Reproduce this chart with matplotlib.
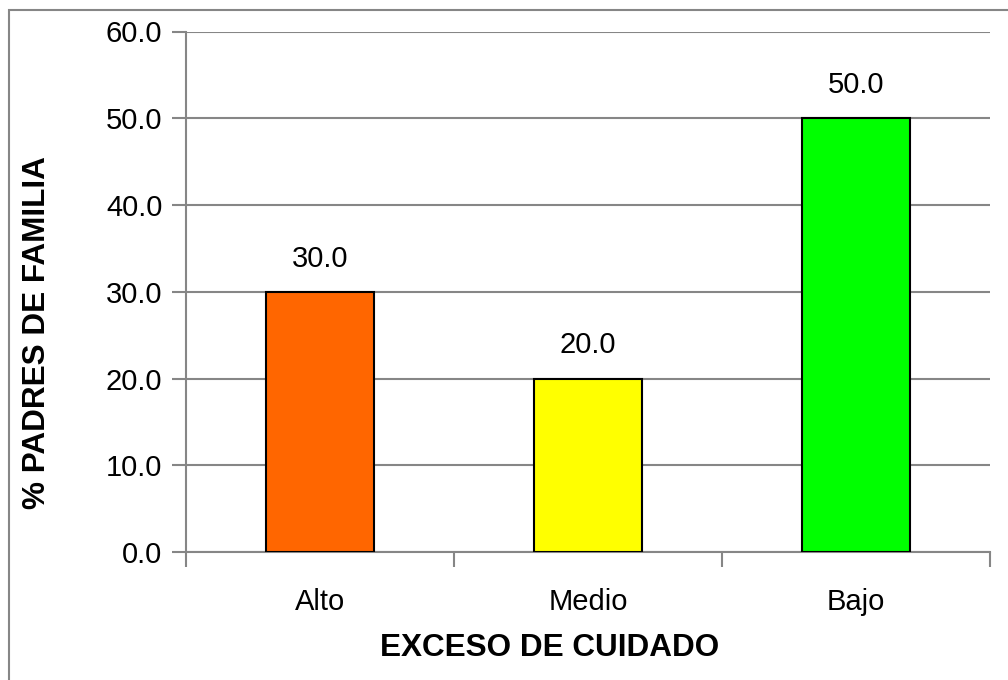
import matplotlib
matplotlib.use("Agg")
import matplotlib.pyplot as plt
from matplotlib.patches import Rectangle

categories = ["Alto", "Medio", "Bajo"]
values = [30.0, 20.0, 50.0]
colors = ["#FF6600", "#FFFF00", "#00FF00"]
yticks = [0, 10, 20, 30, 40, 50, 60]

plt.rcParams['font.family'] = ['Liberation Sans', 'DejaVu Sans']

W, H = 1008, 680
fig = plt.figure(figsize=(W/100, H/100), dpi=100)
ax = fig.add_axes([186/W, 1 - 552/H, (990-186)/W, (552-31.5)/H])

grid_c = "#868686"
x = list(range(len(categories)))
ax.bar(x, values, width=0.4, color=colors, edgecolor="black", linewidth=1.5, zorder=3)
for xi, v in zip(x, values):
    ax.text(xi, v + 2.2, f"{v:.1f}", ha="center", va="bottom", fontsize=21)

ax.set_xlim(-0.5, len(categories) - 0.5)
ax.set_ylim(0, 60)
ax.set_yticks(yticks)
ax.set_yticklabels([f"{t:.1f}" for t in yticks], fontsize=21)
ax.yaxis.grid(True, color=grid_c, linewidth=1.5, zorder=0)
ax.set_axisbelow(True)

ax.set_xticks([i - 0.5 for i in range(len(categories) + 1)])
ax.set_xticklabels([])
ax.set_xticks(x, minor=True)
ax.set_xticklabels(categories, minor=True, fontsize=21)
ax.tick_params(axis="x", which="major", length=11, width=1.5, color=grid_c, direction="out")
ax.tick_params(axis="x", which="minor", length=0, pad=26)
ax.tick_params(axis="y", length=10, width=1.5, color=grid_c, pad=7)

for s in ["top", "right"]:
    ax.spines[s].set_visible(False)
for s in ["left", "bottom"]:
    ax.spines[s].set_color(grid_c)
    ax.spines[s].set_linewidth(1.5)

fig.text(550/W, 1 - 648/H, "EXCESO DE CUIDADO", fontsize=22.7, fontweight="bold",
         ha="center", va="center")
fig.text(37/W, 1 - 333/H, "% PADRES DE FAMILIA", fontsize=22.7, fontweight="bold",
         ha="center", va="center", rotation=90)

fig.patches.append(Rectangle((9/W, -0.1), 1.2, 1 - 10/H + 0.1, transform=fig.transFigure,
                             fill=False, edgecolor=grid_c, linewidth=1.5))

fig.savefig("out.png", dpi=100)
